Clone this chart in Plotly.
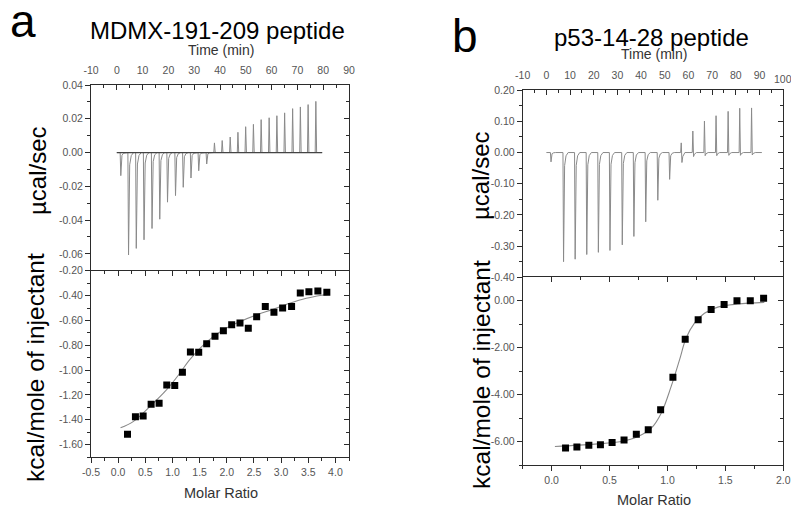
import plotly.graph_objects as go

W, H = 791, 506
FONT = "Liberation Sans, Arial, sans-serif"

# ---------------- data: panel a (MDMX-191-209 peptide) ----------------
a_run_start = 0.0
a_run_end = 79.6
a_inj_time = [1.3, 4.3, 7.3, 10.3, 13.4, 16.4, 19.4, 22.5, 25.5, 28.5, 31.5, 34.6, 37.6,
              40.6, 43.7, 46.7, 49.7, 52.7, 55.7, 58.8, 61.8, 64.8, 67.9, 70.9, 73.9, 76.9]
a_inj_peak = [-0.0137, -0.0607, -0.0568, -0.0517, -0.0450, -0.0395, -0.0294, -0.0255,
              -0.0206, -0.0151, -0.0108, -0.0068, 0.0057, 0.0071, 0.0092, 0.0120, 0.0153,
              0.0167, 0.0195, 0.0206, 0.0218, 0.0235, 0.0260, 0.0270, 0.0284, 0.0303]
a_ratio = [0.172, 0.318, 0.460, 0.607, 0.754, 0.895, 1.042, 1.183, 1.330, 1.483, 1.630,
           1.783, 1.937, 2.090, 2.243, 2.396, 2.550, 2.709, 2.868, 3.028, 3.193, 3.353,
           3.512, 3.677, 3.842]
a_heat = [-1.517, -1.375, -1.369, -1.275, -1.267, -1.120, -1.125, -1.018, -0.854, -0.857,
          -0.787, -0.728, -0.683, -0.634, -0.621, -0.664, -0.570, -0.487, -0.535, -0.500,
          -0.487, -0.380, -0.369, -0.364, -0.374]
a_fit_ratio = [0.044, 0.276, 0.583, 0.889, 1.134, 1.318, 1.625, 1.930, 2.237, 2.544,
               2.849, 3.156, 3.463, 3.768, 3.860]
a_fit_heat = [-1.465, -1.415, -1.294, -1.160, -1.026, -0.915, -0.775, -0.677, -0.610,
              -0.556, -0.511, -0.462, -0.422, -0.396, -0.390]

# ---------------- data: panel b (p53-14-28 peptide) ----------------
b_run_start = 0.0
b_run_end = 91.0
b_inj_time = [1.7, 7.0, 11.9, 16.8, 21.7, 26.6, 31.8, 36.7, 41.7, 46.8, 51.8, 56.7,
              61.6, 66.5, 71.4, 76.5, 81.4, 86.4]
b_inj_peak = [-0.030, -0.350, -0.342, -0.327, -0.320, -0.314, -0.296, -0.269, -0.222,
              -0.153, -0.086, 0.031, 0.069, 0.101, 0.118, 0.132, 0.142, 0.143]
b_inj_dip = [0.0, 0.0, 0.0, 0.0, 0.0, 0.0, 0.0, 0.0, 0.0, 0.0, 0.0, -0.032,
             -0.013, -0.010, -0.010, -0.009, -0.009, -0.008]
b_ratio = [0.120, 0.218, 0.321, 0.421, 0.522, 0.625, 0.731, 0.834, 0.941, 1.047, 1.153,
           1.265, 1.377, 1.489, 1.600, 1.715, 1.830]
b_heat = [-6.28, -6.23, -6.16, -6.14, -6.04, -5.93, -5.69, -5.50, -4.65, -3.26, -1.64,
          -0.81, -0.37, -0.16, 0.00, 0.00, 0.11]
b_fit_ratio = [0.028, 0.373, 0.602, 0.745, 0.860, 0.946, 1.032, 1.104, 1.161, 1.233,
               1.319, 1.434, 1.606, 1.836]
b_fit_heat = [-6.21, -6.11, -6.00, -5.79, -5.43, -4.79, -3.65, -2.52, -1.59, -0.95,
              -0.53, -0.27, -0.14, -0.07]

# ---------------- tick labels ----------------
a_time_ticks = [-10, 0, 10, 20, 30, 40, 50, 60, 70, 80, 90]
a_dp_ticks = [0.04, 0.02, 0.00, -0.02, -0.04, -0.06]
a_heat_ticks = [-0.20, -0.40, -0.60, -0.80, -1.00, -1.20, -1.40, -1.60]
a_ratio_ticks = [-0.5, 0.0, 0.5, 1.0, 1.5, 2.0, 2.5, 3.0, 3.5, 4.0]
b_time_ticks = [-10, 0, 10, 20, 30, 40, 50, 60, 70, 80, 90, 100]
b_dp_ticks = [0.20, 0.10, 0.00, -0.10, -0.20, -0.30, -0.40]
b_heat_ticks = [0.00, -2.00, -4.00, -6.00]
b_ratio_ticks = [0.0, 0.5, 1.0, 1.5, 2.0]


def thermogram(t0, t1, times, peaks, dips=None):
    xs, ys = [t0], [0.0]
    for i, (t, p) in enumerate(zip(times, peaks)):
        d = dips[i] if dips else 0.0
        if p < 0:
            xs += [t, t + 0.25, t + 0.7, t + 1.3, t + 2.2]
            ys += [0.0, p, 0.12 * p, 0.03 * p, 0.0]
        else:
            xs += [t, t + 0.25, t + 0.55, t + 0.9, t + 1.8]
            ys += [0.0, p, d, d * 0.4, 0.0]
    xs.append(t1)
    ys.append(0.0)
    return xs, ys


def fmt(vals, nd):
    return [f"{v:.{nd}f}" for v in vals]


# ---------------- layout geometry (pixels -> paper) ----------------
def px(x):
    return x / W


def py(y):
    return 1 - y / H


A_X = [px(91), px(349)]
A_TOP = [py(270.7), py(85)]
A_BOT = [py(457), py(270.7)]
B_X = [px(522.7), px(783.3)]
B_TOP = [py(277.3), py(90)]
B_BOT = [py(465), py(277.3)]

LINE = "#2b2b2b"
TICKF = dict(family=FONT, size=10.5, color="#555555")
GRAY = "#8a8a8a"

fig = go.Figure()

# panel a top thermogram
ax, ay = thermogram(a_run_start, a_run_end, a_inj_time, a_inj_peak)
fig.add_trace(go.Scatter(x=ax, y=ay, mode="lines", line=dict(color=GRAY, width=1),
                         xaxis="x", yaxis="y", showlegend=False, hoverinfo="skip"))
fig.add_trace(go.Scatter(x=[a_run_start, a_run_end], y=[0, 0], mode="lines",
                         line=dict(color="#444444", width=1.3),
                         xaxis="x", yaxis="y", showlegend=False, hoverinfo="skip"))
# panel a bottom
fig.add_trace(go.Scatter(x=a_fit_ratio, y=a_fit_heat, mode="lines", line_shape="spline",
                         line=dict(color=GRAY, width=1.1), xaxis="x2", yaxis="y3",
                         showlegend=False))
fig.add_trace(go.Scatter(x=a_ratio, y=a_heat, mode="markers",
                         marker=dict(symbol="square", size=7, color="black"),
                         xaxis="x2", yaxis="y3", showlegend=False))
# panel b top thermogram
bx, by = thermogram(b_run_start, b_run_end, b_inj_time, b_inj_peak, b_inj_dip)
fig.add_trace(go.Scatter(x=bx, y=by, mode="lines", line=dict(color=GRAY, width=1),
                         xaxis="x4", yaxis="y5", showlegend=False, hoverinfo="skip"))
# panel b bottom
fig.add_trace(go.Scatter(x=b_fit_ratio, y=b_fit_heat, mode="lines", line_shape="spline",
                         line=dict(color=GRAY, width=1.1), xaxis="x5", yaxis="y7",
                         showlegend=False))
fig.add_trace(go.Scatter(x=b_ratio, y=b_heat, mode="markers",
                         marker=dict(symbol="square", size=7, color="black"),
                         xaxis="x5", yaxis="y7", showlegend=False))

# dummy traces to activate overlay axes
for xa, ya in [("x", "y2"), ("x3", "y3"), ("x2", "y4"), ("x4", "y6"), ("x6", "y7"), ("x5", "y8")]:
    fig.add_trace(go.Scatter(x=[None], y=[None], xaxis=xa, yaxis=ya, showlegend=False,
                             hoverinfo="skip"))


def axis(domain=None, rng=None, tickvals=None, ticktext=None, side=None, anchor=None,
         ticks="outside", labels=True, minor_dtick=None, overlaying=None, standoff=None):
    d = dict(range=rng, showgrid=False, zeroline=False, showline=True, linecolor=LINE,
             linewidth=1, ticks=ticks, ticklen=5, tickwidth=1, tickcolor=LINE,
             tickmode="array", tickvals=tickvals,
             ticktext=ticktext if ticktext is not None else None,
             showticklabels=labels, tickfont=TICKF, fixedrange=True, automargin=False,
             ticklabeloverflow="allow")
    if domain is not None:
        d["domain"] = domain
    if side:
        d["side"] = side
    if anchor:
        d["anchor"] = anchor
    if overlaying:
        d["overlaying"] = overlaying
    if minor_dtick:
        d["minor"] = dict(tickmode="linear", tick0=0, dtick=minor_dtick, ticks=ticks,
                          ticklen=3, tickwidth=1, tickcolor=LINE)
    if standoff is not None:
        d["ticklabelstandoff"] = standoff
    return d


A_TR = [-10, 90]
A_DPR = [-0.07, 0.04]
A_HR = [-1.70, -0.1995]
A_RR = [-0.5, 4.25]
B_TR = [-10, 100.05]
B_DPR = [-0.40, 0.2005]
B_HR = [-7.0, 1.0]
B_RR = [-0.25, 2.0]

# last time label of panel b sits on the page edge; drawn as a note below
b_time_text = [str(v) for v in b_time_ticks[:-1]] + [""]

fig.update_layout(
    width=W, height=H, margin=dict(l=0, r=0, t=0, b=0, pad=0, autoexpand=False),
    autosize=False,
    paper_bgcolor="white", plot_bgcolor="rgba(0,0,0,0)",
    font=dict(family=FONT),
    # panel a
    xaxis=axis(A_X, A_TR, a_time_ticks, [str(v) for v in a_time_ticks], side="top",
               anchor="y", ticks="inside", minor_dtick=5, standoff=6),
    yaxis=axis(A_TOP, A_DPR, a_dp_ticks, fmt(a_dp_ticks, 2), anchor="x", minor_dtick=0.01),
    yaxis2=axis(None, A_DPR, a_dp_ticks, None, side="right", anchor="x", ticks="inside",
                labels=False, minor_dtick=0.01, overlaying="y"),
    xaxis2=axis(A_X, A_RR, a_ratio_ticks, fmt(a_ratio_ticks, 1), side="bottom", anchor="y3",
                minor_dtick=0.25),
    xaxis3=axis(None, A_RR, a_ratio_ticks, None, side="top", anchor="y3", ticks="inside",
                labels=False, minor_dtick=0.25, overlaying="x2"),
    yaxis3=axis(A_BOT, A_HR, a_heat_ticks, fmt(a_heat_ticks, 2), anchor="x2", minor_dtick=0.1),
    yaxis4=axis(None, A_HR, a_heat_ticks, None, side="right", anchor="x2", ticks="inside",
                labels=False, minor_dtick=0.1, overlaying="y3"),
    # panel b
    xaxis4=axis(B_X, B_TR, b_time_ticks, b_time_text, side="top",
                anchor="y5", ticks="inside", minor_dtick=5, standoff=6),
    yaxis5=axis(B_TOP, B_DPR, b_dp_ticks, fmt(b_dp_ticks, 2), anchor="x4", minor_dtick=0.05),
    yaxis6=axis(None, B_DPR, b_dp_ticks, None, side="right", anchor="x4", ticks="inside",
                labels=False, minor_dtick=0.05, overlaying="y5"),
    xaxis5=axis(B_X, B_RR, b_ratio_ticks, fmt(b_ratio_ticks, 1), side="bottom", anchor="y7",
                minor_dtick=0.25),
    xaxis6=axis(None, B_RR, b_ratio_ticks, None, side="top", anchor="y7", ticks="inside",
                labels=False, minor_dtick=0.25, overlaying="x5"),
    yaxis7=axis(B_BOT, B_HR, b_heat_ticks, fmt(b_heat_ticks, 2), anchor="x5", minor_dtick=1),
    yaxis8=axis(None, B_HR, b_heat_ticks, None, side="right", anchor="x5", ticks="inside",
                labels=False, minor_dtick=1, overlaying="y7"),
)


def note(text, x, y, size, angle=0, color="black", xanchor="center"):
    fig.add_annotation(text=text, x=px(x), y=py(y), xref="paper", yref="paper",
                       showarrow=False, xanchor=xanchor, yanchor="middle",
                       textangle=angle, font=dict(family=FONT, size=size, color=color))


note("a", 22.5, 21, 46)
note("b", 465, 35.5, 46)
note("MDMX-191-209 peptide", 218, 31, 24)
note("p53-14-28 peptide", 651, 37, 24)
note("Time (min)", 221, 50, 14, color="#333333")
note("Time (min)", 653.5, 54, 14, color="#333333")
note("µcal/sec", 37, 171, 24, angle=-90)
note("kcal/mole of injectant", 35, 368, 24.5, angle=-90)
note("µcal/sec", 480, 176, 24, angle=-90)
note("kcal/mole of injectant", 481, 374, 24.5, angle=-90)
note("Molar Ratio", 220.5, 493, 14.5, color="#333333")
note("Molar Ratio", 653.5, 500, 14.5, color="#333333")
# edge label of the panel-b time axis (value 100), partly past the page edge as in the source
fig.add_annotation(text=str(b_time_ticks[-1]), x=b_time_ticks[-1], xref="x4",
                   y=py(79), yref="paper", showarrow=False, xanchor="center",
                   yanchor="middle", font=TICKF)

fig.write_html("out.html", config={"displayModeBar": False},
               post_script="document.body.style.margin='0px';document.body.style.overflow='hidden';")
